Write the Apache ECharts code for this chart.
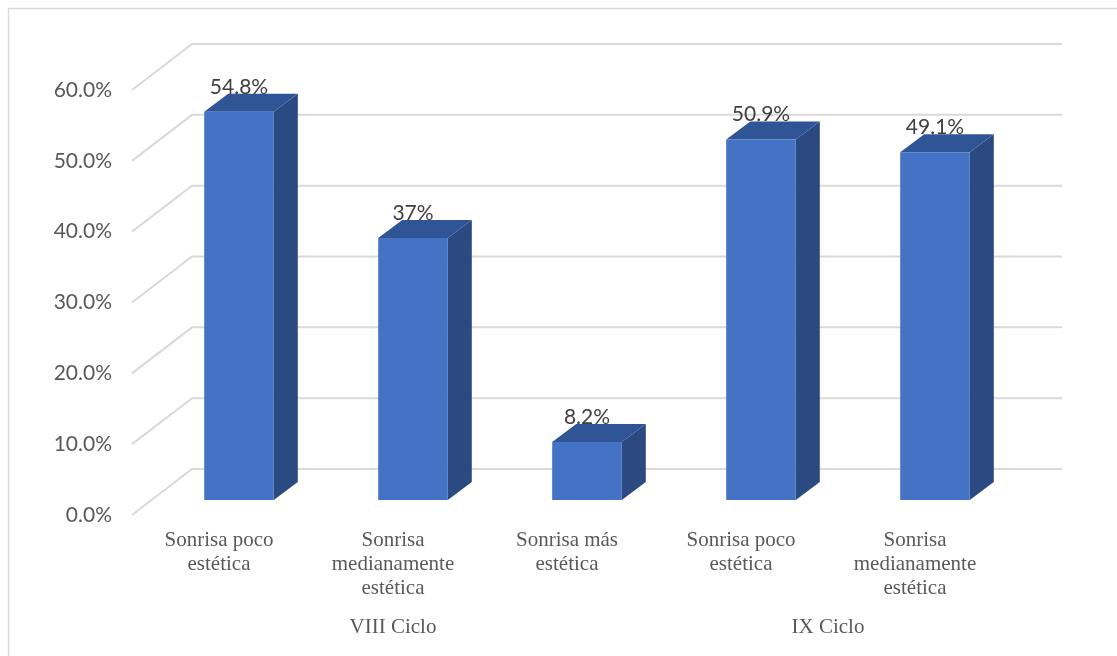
<!DOCTYPE html>
<html lang="es">
<head>
    <meta charset="UTF-8">
    <title>Sonrisa por ciclo</title>
    <script src="https://cdn.jsdelivr.net/npm/echarts@6/dist/echarts.min.js"></script>
    <style>
        html, body { margin: 0; padding: 0; background: #fff; }
    </style>
</head>
<body>
    <div id="main" style="width: 1117px;height:656px;"></div>
    <script type="text/javascript">
        // chart data
        const categories = [
            'Sonrisa poco\nestética',
            'Sonrisa\nmedianamente\nestética',
            'Sonrisa más\nestética',
            'Sonrisa poco\nestética',
            'Sonrisa\nmedianamente\nestética'
        ];
        const values = [54.8, 37, 8.2, 50.9, 49.1];
        const valueLabels = ['54.8%', '37%', '8.2%', '50.9%', '49.1%'];
        const groupNames = ['VIII Ciclo', 'IX Ciclo'];
        const groupCenters = [1.5, 4];
        const yTicks = [0, 10, 20, 30, 40, 50, 60];

        // 3d look: bar depth and wall offsets
        const depthX = 24, depthY = -18;
        const frontShift = [-20, 15];
        const backShift = [40, -31];

        const myChart = echarts.init(document.getElementById('main'));

        const option = {
            animation: false,
            graphic: [{
                type: 'rect',
                shape: { x: 8.5, y: 8.5, width: 1120, height: 660 },
                style: { fill: 'none', stroke: '#d9d9d9', lineWidth: 1.5 },
                silent: true
            }],
            grid: [
                // plane of the bars
                { left: 152, right: 95, top: 75, bottom: 156 },
                // front plane, holds the axis labels
                { left: 132, right: 115, top: 90, bottom: 141 }
            ],
            xAxis: [
                {
                    type: 'category', gridIndex: 0, data: categories,
                    axisLine: { show: false }, axisTick: { show: false }, axisLabel: { show: false }
                },
                {
                    type: 'category', gridIndex: 1, data: categories,
                    axisLine: { show: false }, axisTick: { show: false },
                    axisLabel: {
                        margin: 13, interval: 0,
                        fontFamily: 'Liberation Serif', fontSize: 21, lineHeight: 24,
                        color: '#595959'
                    }
                },
                {
                    type: 'value', gridIndex: 1, min: 0, max: 5, position: 'bottom',
                    axisLine: { show: false }, axisTick: { show: false }, splitLine: { show: false },
                    axisLabel: {
                        customValues: groupCenters, margin: 100,
                        fontFamily: 'Liberation Serif', fontSize: 21, lineHeight: 24,
                        color: '#595959',
                        formatter: v => groupNames[groupCenters.indexOf(v)] || ''
                    }
                }
            ],
            yAxis: [
                {
                    type: 'value', gridIndex: 0, min: 0, max: 60, interval: 10,
                    axisLabel: { show: false }, splitLine: { show: false },
                    axisLine: { show: false }, axisTick: { show: false }
                },
                {
                    type: 'value', gridIndex: 1, min: 0, max: 60, interval: 10,
                    splitLine: { show: false }, axisLine: { show: false }, axisTick: { show: false },
                    axisLabel: {
                        margin: 20, fontFamily: 'Lato', fontSize: 21, color: '#595959',
                        formatter: v => v.toFixed(1) + '%'
                    }
                }
            ],
            series: [
                {
                    // side wall and back wall gridlines
                    type: 'custom', xAxisIndex: 0, yAxisIndex: 0, z: 1, silent: true,
                    data: yTicks.map(t => [0, t]),
                    encode: { x: 0, y: 1 },
                    renderItem: function (params, api) {
                        const cs = params.coordSys;
                        const y = api.coord([0, api.value(1)])[1];
                        return {
                            type: 'polyline',
                            shape: {
                                points: [
                                    [cs.x + frontShift[0], y + frontShift[1]],
                                    [cs.x + backShift[0], y + backShift[1]],
                                    [cs.x + cs.width + backShift[0], y + backShift[1]]
                                ]
                            },
                            style: { stroke: '#d9d9d9', lineWidth: 2, fill: 'none' }
                        };
                    }
                },
                {
                    // 3d bars
                    type: 'custom', xAxisIndex: 0, yAxisIndex: 0, z: 2, silent: true,
                    data: values.map((v, i) => [i, v]),
                    encode: { x: 0, y: 1 },
                    renderItem: function (params, api) {
                        const i = api.value(0);
                        const top = api.coord([i, api.value(1)]);
                        const base = api.coord([i, 0]);
                        const w = api.size([1, 0])[0] * 0.4;
                        const x0 = top[0] - w / 2, x1 = top[0] + w / 2;
                        const yT = top[1], yB = base[1];
                        return {
                            type: 'group',
                            children: [
                                {
                                    type: 'polygon',
                                    shape: { points: [[x1, yT], [x1 + depthX, yT + depthY], [x1 + depthX, yB + depthY], [x1, yB]] },
                                    style: { fill: '#2b4a81' }
                                },
                                {
                                    type: 'polygon',
                                    shape: { points: [[x0, yT], [x0 + depthX, yT + depthY], [x1 + depthX, yT + depthY], [x1, yT]] },
                                    style: { fill: '#305596' }
                                },
                                {
                                    type: 'rect',
                                    shape: { x: x0, y: yT, width: w, height: yB - yT },
                                    style: { fill: '#4472c4' }
                                },
                                {
                                    type: 'text',
                                    style: {
                                        text: valueLabels[params.dataIndex],
                                        x: top[0], y: yT - 25,
                                        align: 'center', verticalAlign: 'middle',
                                        fontFamily: 'Lato', fontSize: 21, fill: '#404040'
                                    }
                                }
                            ]
                        };
                    }
                }
            ]
        };

        myChart.setOption(option);
    </script>
</body>
</html>
